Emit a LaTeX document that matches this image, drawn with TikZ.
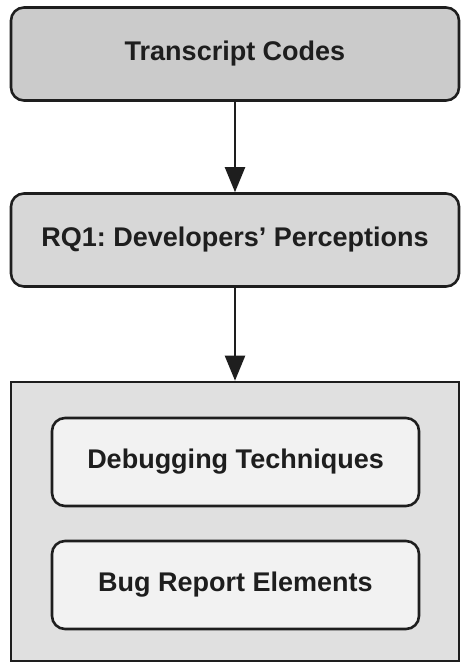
\documentclass[tikz,border=0pt]{standalone}
\usepackage{fontspec}
\setmainfont{Liberation Sans}
\usepackage{tikz}
\usetikzlibrary{shapes, arrows.meta, positioning}
\frenchspacing
\definecolor{codegray}{HTML}{CBCBCB}
\definecolor{rqgray}{HTML}{D7D7D7}
\definecolor{groupgray}{HTML}{E0E0E0}
\definecolor{itemgray}{HTML}{F2F2F2}
\definecolor{inkgray}{HTML}{1E1E1E}
\tikzstyle{block} = [draw=inkgray, rectangle, rounded corners=13pt, line width=2.6pt,
    minimum height=93pt, minimum width=448pt, text=inkgray,
    font=\bfseries\fontsize{27}{32}\selectfont]
\tikzstyle{group} = [draw=inkgray, rectangle, line width=2.6pt, fill=groupgray]
\tikzstyle{item} = [block, minimum height=88pt, minimum width=367pt, fill=itemgray]
\tikzstyle{flow} = [draw=inkgray, line width=2.2pt, -{Triangle[length=25pt,width=20pt]}]

\begin{document}
\begin{tikzpicture}[x=1pt, y=-1pt]
        \useasboundingbox (0,0) rectangle (460,663);
        \node[block, fill=codegray, name=codes] at (235,54) (codes) {Transcript Codes};
        \node[block, fill=rqgray, name=rq1] at (235,240) (rq1) {RQ1: Developers’ Perceptions};
        \node[group, minimum width=448pt, minimum height=279pt, name=results] at (235,521.5) (results) {};
        \node[item, name=techniques] at (235.5,462) (techniques) {Debugging Techniques};
        \node[item, name=elements] at (235.5,585) (elements) {Bug Report Elements};

        \draw[flow] (codes) -- (rq1);
        \draw[flow] (rq1) -- (results);
    \end{tikzpicture}
\end{document}
